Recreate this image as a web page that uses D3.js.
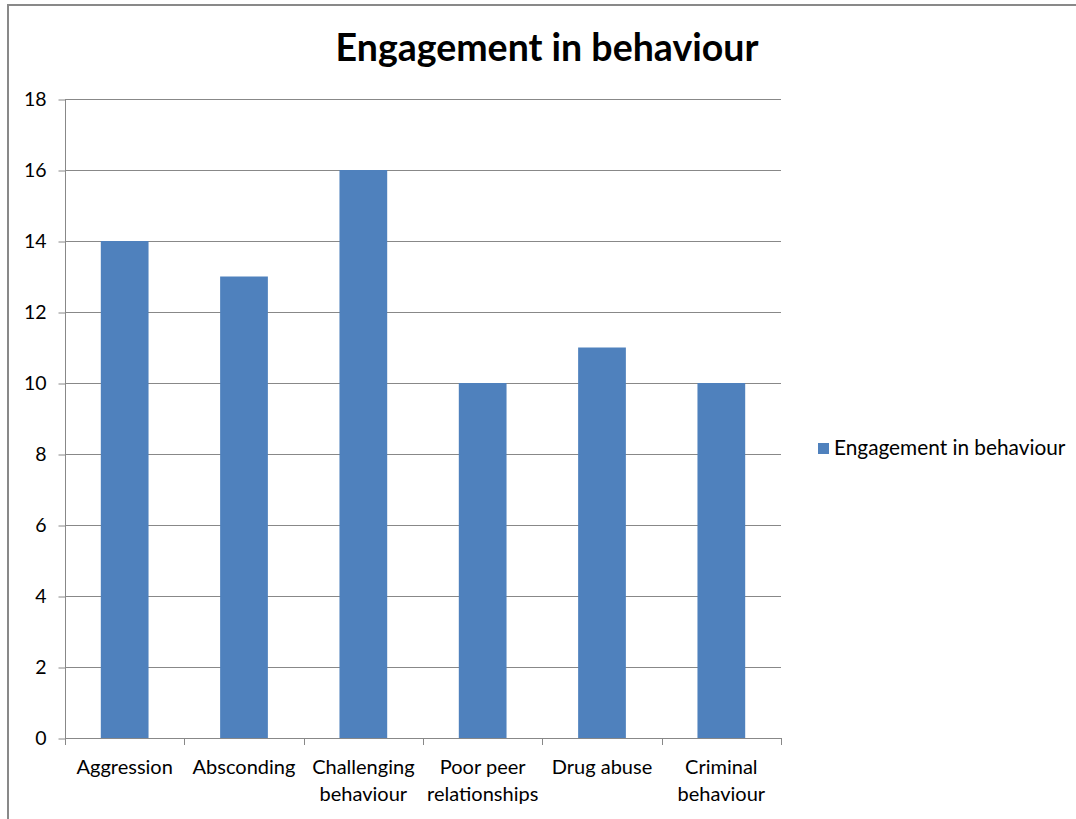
<!DOCTYPE html>
<html>
<head>
<meta charset="utf-8">
<script src="https://cdn.jsdelivr.net/npm/d3@7"></script>
<style>
  html, body { margin: 0; padding: 0; background: #fff; }
  svg { display: block; }
  text { font-family: Lato, "Open Sans", sans-serif; fill: #000; }
</style>
</head>
<body>
<svg id="chart" width="1076" height="819"></svg>
<script>
// Category labels (line breaks marked with \n) and their counts
const categories = ["Aggression", "Absconding", "Challenging\nbehaviour", "Poor peer\nrelationships", "Drug abuse", "Criminal\nbehaviour"];
const values = [14, 13, 16, 10, 11, 10];
const yTicks = [0, 2, 4, 6, 8, 10, 12, 14, 16, 18];
const seriesName = "Engagement in behaviour";
const chartTitle = "Engagement in behaviour";

const svg = d3.select("#chart");
const barColor = "#4F81BD";
const gridColor = "#888888";

// outer frame of the chart object
svg.append("rect")
  .attr("x", 8).attr("y", 5)
  .attr("width", 1100).attr("height", 900)
  .attr("fill", "none").attr("stroke", "#898989").attr("stroke-width", 2);

const plot = { left: 65, right: 781, top: 99, bottom: 738 };

const x = d3.scaleBand()
  .domain(categories)
  .range([plot.left, plot.right])
  .paddingInner(0.6)
  .paddingOuter(0.3);

const y = d3.scaleLinear()
  .domain([0, 18])
  .range([plot.bottom, plot.top]);

// horizontal gridlines
svg.append("g")
  .selectAll("line")
  .data(yTicks)
  .join("line")
  .attr("x1", plot.left).attr("x2", plot.right)
  .attr("y1", d => y(d) + 0.5).attr("y2", d => y(d) + 0.5)
  .attr("stroke", gridColor).attr("stroke-width", 1);

// bars
svg.append("g")
  .selectAll("rect")
  .data(values)
  .join("rect")
  .attr("x", (d, i) => x(categories[i]))
  .attr("width", x.bandwidth())
  .attr("y", d => y(d))
  .attr("height", d => y(0) - y(d))
  .attr("fill", barColor);

// y axis
const yAxis = d3.axisLeft(y).tickValues(yTicks).tickSize(7).tickPadding(12);
const gy = svg.append("g")
  .attr("transform", `translate(${plot.left + 0.5},0)`)
  .call(yAxis);
gy.select(".domain").attr("stroke", gridColor).attr("d", `M0,${plot.top}V${plot.bottom}`);
gy.selectAll(".tick line").attr("stroke", gridColor).attr("transform", "translate(0,0.5)");
gy.selectAll(".tick text")
  .attr("font-family", "Lato, sans-serif")
  .attr("font-size", 19.5)
  .attr("fill", "#111");

// x axis with ticks at category boundaries
const boundaries = d3.range(categories.length + 1).map(i => plot.left + i * (plot.right - plot.left) / categories.length);
svg.append("line")
  .attr("x1", plot.left).attr("x2", plot.right)
  .attr("y1", plot.bottom + 0.5).attr("y2", plot.bottom + 0.5)
  .attr("stroke", gridColor);
svg.append("g")
  .selectAll("line")
  .data(boundaries)
  .join("line")
  .attr("x1", d => Math.round(d) + 0.5).attr("x2", d => Math.round(d) + 0.5)
  .attr("y1", plot.bottom).attr("y2", plot.bottom + 7)
  .attr("stroke", gridColor);

const xl = svg.append("g")
  .selectAll("text")
  .data(categories)
  .join("text")
  .attr("text-anchor", "middle")
  .attr("font-size", 20)
  .attr("fill", "#111")
  .attr("transform", d => `translate(${x(d) + x.bandwidth() / 2},774)`);
xl.each(function(d) {
  const lines = d.split("\n");
  d3.select(this).selectAll("tspan")
    .data(lines)
    .join("tspan")
    .attr("x", 0)
    .attr("dy", (l, i) => i === 0 ? 0 : 27)
    .text(l => l);
});

// title
svg.append("text")
  .attr("x", 547).attr("y", 61)
  .attr("text-anchor", "middle")
  .attr("font-size", 37.5)
  .attr("font-weight", "bold")
  .text(chartTitle);

// legend
const legend = svg.append("g").attr("transform", "translate(818,443)");
legend.append("rect")
  .attr("width", 11).attr("height", 11)
  .attr("fill", barColor);
legend.append("text")
  .attr("x", 16).attr("y", 12)
  .attr("font-size", 20.8)
  .attr("fill", "#111")
  .text(seriesName);
</script>
</body>
</html>
